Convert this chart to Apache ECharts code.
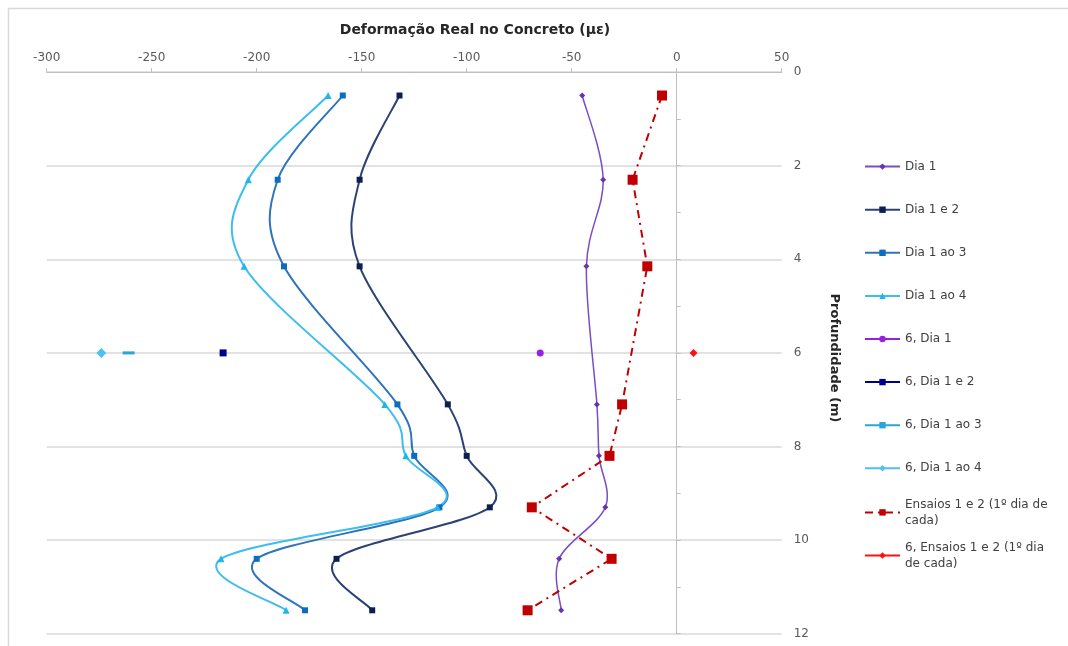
<!DOCTYPE html>
<html>
<head>
<meta charset="utf-8">
<script src="https://cdn.jsdelivr.net/npm/echarts@6/dist/echarts.min.js"></script>
<style>
  html, body { margin: 0; padding: 0; background: #ffffff; }
  #chart { width: 1068px; height: 646px; }
</style>
</head>
<body>
<div id="chart"></div>
<script>
// Depth of each strain gauge (m)
const depths = [0.5, 2.3, 4.15, 7.1, 8.2, 9.3, 10.4, 11.5];

// Real strain in the concrete (με) at each depth
const dia1      = [-45, -35, -43, -38, -37, -34, -56, -55];
const dia1e2    = [-132, -151, -151, -109, -100, -89, -162, -145];
const dia1ao3   = [-159, -190, -187, -133, -125, -113, -200, -177];
const dia1ao4   = [-166, -204, -206, -139, -129, -114, -217, -186];
const ensaios   = [-7, -21, -14, -26, -32, -69, -31, -71];

// Readings of the gauge at 6 m, plotted on their own
const depth6    = [6];
const d6Dia1    = [-65];
const d6Dia1e2  = [-216];
const d6Dia1ao3 = [-261];
const d6Dia1ao4 = [-274];
const d6Ensaios = [8];

// Axis scales
const strainTicks = [-300, -250, -200, -150, -100, -50, 0, 50];
const depthTicks  = [0, 2, 4, 6, 8, 10, 12];

const FONT = 'DejaVu Sans';

function pairs(values, ys) {
  return values.map((v, i) => [v, ys[i]]);
}

// Markers (and legend entry) of one series; the smoothed curve is drawn separately
function markerSeries(name, values, ys, o) {
  return {
    name: name,
    type: 'line',
    data: pairs(values, ys),
    smooth: false,
    symbol: o.symbol,
    symbolSize: o.size,
    showSymbol: true,
    z: o.z || 3,
    lineStyle: {
      color: o.line,
      width: o.width || 2,
      type: o.dash || 'solid',
      cap: 'butt',
      opacity: o.hideLine ? 0 : 1
    },
    itemStyle: { color: o.marker, borderWidth: 0 },
    emphasis: { disabled: true }
  };
}

// Smooth curve through the points, one cubic segment per pair of neighbours
// (Catmull-Rom tangents, computed in pixel space from the axes' own scale)
function curveSeries(values, ys, color, width) {
  const data = pairs(values, ys);
  return {
    type: 'custom',
    coordinateSystem: 'cartesian2d',
    data: data,
    encode: { x: 0, y: 1 },
    silent: true,
    z: 2,
    renderItem: function (params, api) {
      const i = params.dataIndex;
      const n = data.length;
      if (i >= n - 1) return null;
      const p0 = api.coord(data[Math.max(i - 1, 0)]);
      const p1 = api.coord(data[i]);
      const p2 = api.coord(data[i + 1]);
      const p3 = api.coord(data[Math.min(i + 2, n - 1)]);
      return {
        type: 'bezierCurve',
        shape: {
          x1: p1[0], y1: p1[1],
          x2: p2[0], y2: p2[1],
          cpx1: p1[0] + (p2[0] - p0[0]) / 6,
          cpy1: p1[1] + (p2[1] - p0[1]) / 6,
          cpx2: p2[0] - (p3[0] - p1[0]) / 6,
          cpy2: p2[1] - (p3[1] - p1[1]) / 6
        },
        style: { stroke: color, lineWidth: width, fill: null }
      };
    }
  };
}

const markers = [
  markerSeries('Dia 1', dia1, depths,
    { symbol: 'diamond', size: 6, line: '#7c4cc4', marker: '#6633b3', width: 1.5, hideLine: true }),
  markerSeries('Dia 1 e 2', dia1e2, depths,
    { symbol: 'rect', size: 6, line: '#2b4373', marker: '#0c1f4f', hideLine: true }),
  markerSeries('Dia 1 ao 3', dia1ao3, depths,
    { symbol: 'rect', size: 6, line: '#3074b8', marker: '#0a6cc2', hideLine: true }),
  markerSeries('Dia 1 ao 4', dia1ao4, depths,
    { symbol: 'triangle', size: 7, line: '#3dbdf0', marker: '#22b5ec', hideLine: true }),
  markerSeries('6, Dia 1', d6Dia1, depth6,
    { symbol: 'circle', size: 7, line: '#9a1fe0', marker: '#9a1fe0' }),
  markerSeries('6, Dia 1 e 2', d6Dia1e2, depth6,
    { symbol: 'rect', size: 7, line: '#000090', marker: '#000090' }),
  markerSeries('6, Dia 1 ao 3', d6Dia1ao3, depth6,
    { symbol: 'rect', size: [12, 3], line: '#2aa6d6', marker: '#2aa6d6' }),
  markerSeries('6, Dia 1 ao 4', d6Dia1ao4, depth6,
    { symbol: 'diamond', size: 10, line: '#4ec0f4', marker: '#4ec0f4' }),
  markerSeries('Ensaios 1 e 2 (1º dia de cada)', ensaios, depths,
    { symbol: 'rect', size: 10, line: '#c00000', marker: '#c00000', width: 2, dash: [8, 5, 2, 5], z: 4 }),
  markerSeries('6, Ensaios 1 e 2 (1º dia de cada)', d6Ensaios, depth6,
    { symbol: 'diamond', size: 8, line: '#ff1010', marker: '#ff1010', z: 4 })
];

const curves = [
  curveSeries(dia1, depths, '#7c4cc4', 1.5),
  curveSeries(dia1e2, depths, '#2b4373', 2),
  curveSeries(dia1ao3, depths, '#3074b8', 2),
  curveSeries(dia1ao4, depths, '#3dbdf0', 2)
];

// Legend entries, one per series, stacked on the right
const wrapped = {
  'Ensaios 1 e 2 (1º dia de cada)': 'Ensaios 1 e 2 (1º dia de\ncada)',
  '6, Ensaios 1 e 2 (1º dia de cada)': '6, Ensaios 1 e 2 (1º dia\nde cada)'
};
const legendFirst = 167.6, legendStep = 43.1;
const legends = markers.map((s, i) => {
  const center = legendFirst + i * legendStep;
  const twoLines = !!wrapped[s.name];
  return {
    data: [s.name],
    orient: 'vertical',
    left: 864,
    top: twoLines ? center - 24 : center - 7,
    padding: 0,
    itemWidth: 35,
    itemHeight: 8,
    itemGap: 0,
    selectedMode: false,
    lineStyle: { opacity: 1 },
    formatter: (n) => wrapped[n] || n,
    textStyle: twoLines
      ? { fontFamily: FONT, fontSize: 12, color: '#404040', lineHeight: 16, padding: [16, 0, 0, 0] }
      : { fontFamily: FONT, fontSize: 12, color: '#404040' }
  };
});

const chart = echarts.init(document.getElementById('chart'), null, { renderer: 'canvas' });

chart.setOption({
  animation: false,
  backgroundColor: '#ffffff',
  title: {
    text: 'Deformação Real no Concreto (με)',
    left: 475,
    top: 23,
    textAlign: 'center',
    padding: 0,
    textStyle: { fontFamily: FONT, fontWeight: 'bold', fontSize: 14, color: '#262626' }
  },
  graphic: [{
    type: 'rect',
    silent: true,
    shape: { x: 8.5, y: 8.5, width: 1100, height: 700 },
    style: { fill: 'none', stroke: '#d9d9d9', lineWidth: 1.5 }
  }, {
    type: 'text',
    silent: true,
    x: 834,
    y: 358,
    rotation: -Math.PI / 2,
    style: {
      text: 'Profundidade (m)',
      align: 'center',
      verticalAlign: 'middle',
      fontFamily: FONT,
      fontWeight: 'bold',
      fontSize: 13,
      fill: '#262626'
    }
  }],
  grid: { left: 46.7, right: 286.3, top: 72.1, bottom: 12.3, containLabel: false },
  xAxis: {
    type: 'value',
    position: 'top',
    min: strainTicks[0],
    max: strainTicks[strainTicks.length - 1],
    interval: strainTicks[1] - strainTicks[0],
    axisLine: { show: true, onZero: false, lineStyle: { color: '#bfbfbf', width: 1 } },
    axisTick: { show: true, length: 4, lineStyle: { color: '#bfbfbf' } },
    axisLabel: { margin: 8, fontFamily: FONT, fontSize: 12, color: '#595959' },
    splitLine: { show: false }
  },
  yAxis: [{
    type: 'value',
    position: 'right',
    inverse: true,
    min: depthTicks[0],
    max: depthTicks[depthTicks.length - 1],
    interval: depthTicks[1] - depthTicks[0],
    axisLine: { show: false, onZero: false },
    axisTick: { show: false },
    axisLabel: { margin: 12, fontFamily: FONT, fontSize: 12, color: '#595959' },
    splitLine: { show: true, lineStyle: { color: '#d9d9d9', width: 1.5 } }
  }, {
    // Depth axis line drawn where the strain is zero, with a tick every metre
    type: 'value',
    position: 'left',
    inverse: true,
    min: depthTicks[0],
    max: depthTicks[depthTicks.length - 1],
    interval: 1,
    axisLine: { show: true, onZero: true, lineStyle: { color: '#bfbfbf', width: 1 } },
    axisTick: { show: true, inside: true, length: 4, lineStyle: { color: '#bfbfbf' } },
    axisLabel: { show: false },
    splitLine: { show: false }
  }],
  legend: legends,
  series: curves.concat(markers)
});
</script>
</body>
</html>
